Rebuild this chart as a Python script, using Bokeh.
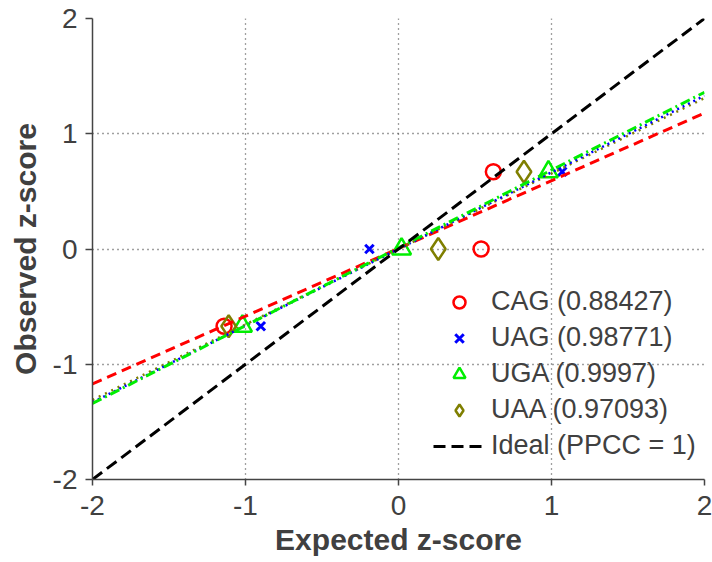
from bokeh.plotting import figure
from bokeh.models import Range1d, FixedTicker, Legend, LegendItem
from bokeh.embed import file_html
from bokeh.resources import INLINE

# ---- data ----
observed = [-0.67, 0.0, 0.67]
exp_cag = [-1.14, 0.54, 0.62]
exp_uag = [-0.90, -0.19, 1.07]
exp_uga = [-1.02, 0.02, 0.98]
exp_uaa = [-1.11, 0.26, 0.82]

fit_x = [-2.0, 2.0]
fit_cag = [-1.17, 1.18]
fit_uag = [-1.33, 1.33]
fit_uga = [-1.34, 1.36]
fit_uaa = [-1.31, 1.31]
ideal_y = [-2.0, 2.0]

labels = ["CAG (0.88427)", "UAG (0.98771)", "UGA (0.9997)", "UAA (0.97093)", "Ideal (PPCC = 1)"]
ticks = [-2, -1, 0, 1, 2]
tick_labels = ["-2", "-1", "0", "1", "2"]

RED = "#ff0000"
BLUE = "#0000ff"
GREEN = "#00ee00"
OLIVE = "#7f7f00"
TXT = "#404040"
FONT = "Liberation Sans"

p = figure(width=712, height=562, x_range=Range1d(-2, 2), y_range=Range1d(-2, 2),
           output_backend="svg", toolbar_location=None,
           min_border_left=92, min_border_right=8, min_border_top=18, min_border_bottom=83)
p.outline_line_color = None
p.background_fill_color = "white"
p.border_fill_color = "white"

for ax in (p.xaxis[0], p.yaxis[0]):
    ax.ticker = FixedTicker(ticks=ticks)
    ax.major_label_overrides = {t: s for t, s in zip(ticks, tick_labels)}
    ax.minor_tick_line_color = None
    ax.major_tick_in = 0
    ax.axis_line_color = "#444444"
    ax.axis_line_width = 1.5
    ax.major_tick_line_color = "#444444"
    ax.major_tick_line_width = 1.5
    ax.major_label_text_font = FONT
    ax.major_label_text_font_size = "28px"
    ax.major_label_text_color = TXT
    ax.axis_label_text_font = FONT
    ax.axis_label_text_font_size = "30px"
    ax.axis_label_text_font_style = "bold"
    ax.axis_label_text_color = TXT

p.xaxis.axis_label = "Expected z-score"
p.yaxis.axis_label = "Observed z-score"
p.xaxis.major_tick_out = 6
p.yaxis.major_tick_out = 7
p.xaxis.major_label_standoff = 10
p.yaxis.major_label_standoff = 8
p.xaxis.axis_label_standoff = 5
p.yaxis.axis_label_standoff = 8

for g in (p.xgrid[0], p.ygrid[0]):
    g.ticker = FixedTicker(ticks=ticks)
    g.grid_line_color = "#404040"
    g.grid_line_dash = "1 4"
    g.grid_line_width = 1.3

# markers
r_cag = p.scatter(exp_cag, observed, marker="circle", size=15, fill_color=None,
                  line_color=RED, line_width=2.5)
r_uag = p.scatter(exp_uag, observed, marker="x", size=12, line_color=BLUE, line_width=3)
r_uga = p.scatter(exp_uga, observed, marker="triangle", size=19, fill_color=None,
                  line_color=GREEN, line_width=2.5)
r_uaa = p.scatter(exp_uaa, observed, marker="diamond", size=22, fill_color=None,
                  line_color=OLIVE, line_width=2.5)

# fit lines
p.line(fit_x, fit_cag, line_color=RED, line_width=3, line_dash="10 6")
p.line(fit_x, fit_uaa, line_color=OLIVE, line_width=2.5, line_dash="2 5")
p.line(fit_x, fit_uag, line_color=BLUE, line_width=2.5, line_dash="2 4")
p.line(fit_x, fit_uga, line_color=GREEN, line_width=3, line_dash="10 4 2 4")
r_ideal = p.line(fit_x, ideal_y, line_color="black", line_width=3, line_dash="12 6")

legend = Legend(items=[LegendItem(label=labels[0], renderers=[r_cag]),
                       LegendItem(label=labels[1], renderers=[r_uag]),
                       LegendItem(label=labels[2], renderers=[r_uga]),
                       LegendItem(label=labels[3], renderers=[r_uaa]),
                       LegendItem(label=labels[4], renderers=[r_ideal])],
                location=(341, 18))
legend.glyph_width = 52
legend.glyph_height = 30
legend.label_height = 30
legend.spacing = 5
legend.padding = 0
legend.margin = 0
legend.label_standoff = 6
legend.label_text_font = FONT
legend.label_text_font_size = "27px"
legend.label_text_color = TXT
legend.border_line_alpha = 0
legend.background_fill_alpha = 0
p.add_layout(legend)

open("out.html", "w").write(file_html(p, INLINE))
